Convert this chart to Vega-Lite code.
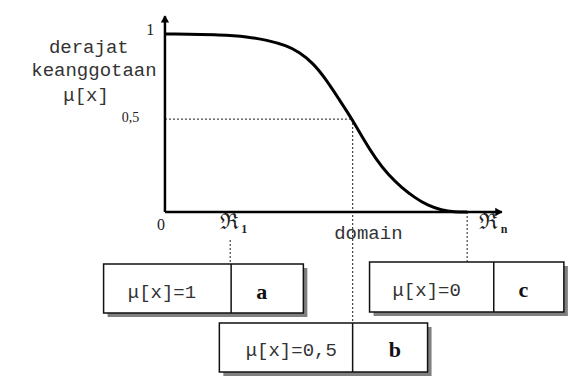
{
  "$schema": "https://vega.github.io/schema/vega-lite/v6.json",
  "width": 568,
  "height": 378,
  "padding": 0,
  "autosize": {"type": "fit", "contains": "padding"},
  "background": "white",
  "config": {"view": {"stroke": null}},
  "datasets": {
    "boxes": [
      {"x": -2.03, "x2": 4.58, "y": -0.292, "y2": -0.567},
      {"x": 1.80, "x2": 8.69, "y": -0.624, "y2": -0.899},
      {"x": 6.77, "x2": 13.2, "y": -0.281, "y2": -0.562}
    ],
    "dividers": [
      {"x": 2.19, "y": -0.292, "y2": -0.567},
      {"x": 6.21, "y": -0.624, "y2": -0.899},
      {"x": 10.88, "y": -0.281, "y2": -0.562}
    ],
    "curve": [
      {"x": 0, "y": 1.0},
      {"x": 1.96, "y": 0.996},
      {"x": 2.71, "y": 0.985},
      {"x": 3.37, "y": 0.966},
      {"x": 4.02, "y": 0.935},
      {"x": 4.44, "y": 0.899},
      {"x": 4.90, "y": 0.837},
      {"x": 5.33, "y": 0.745},
      {"x": 5.75, "y": 0.636},
      {"x": 6.21, "y": 0.517},
      {"x": 6.57, "y": 0.408},
      {"x": 6.96, "y": 0.302},
      {"x": 7.39, "y": 0.208},
      {"x": 7.84, "y": 0.136},
      {"x": 8.27, "y": 0.080},
      {"x": 8.69, "y": 0.037},
      {"x": 9.15, "y": 0.010},
      {"x": 9.58, "y": 0.0},
      {"x": 10.0, "y": 0.0}
    ],
    "axisV": [{"x": 0, "y": 0, "y2": 1.1}],
    "axisH": [{"x": 0, "x2": 11.15, "y": 0}],
    "arrowUp": [{"x": 0, "y": 1.085}],
    "arrowRight": [{"x": 11.05, "y": 0}],
    "dotV": [
      {"x": 6.21, "y": 0.522, "y2": -0.624},
      {"x": 2.16, "y": -0.157, "y2": -0.292},
      {"x": 10.0, "y": 0, "y2": -0.281}
    ],
    "dotH": [{"x": 0, "x2": 6.21, "y": 0.522}],
    "mono": [
      {"x": -2.52, "y": 0.927, "t": "derajat"},
      {"x": -2.35, "y": 0.798, "t": "keanggotaan"},
      {"x": -2.61, "y": 0.657, "t": "μ[x]"},
      {"x": 6.73, "y": -0.118, "t": "domain"},
      {"x": -0.1, "y": -0.449, "t": "μ[x]=1"},
      {"x": 4.18, "y": -0.775, "t": "μ[x]=0,5"},
      {"x": 8.66, "y": -0.438, "t": "μ[x]=0"}
    ],
    "serif": [
      {"x": -0.49, "y": 1.022, "t": "1"},
      {"x": -0.13, "y": -0.073, "t": "0"}
    ],
    "serifSmall": [
      {"x": -1.14, "y": 0.528, "t": "0,5"}
    ],
    "letters": [
      {"x": 3.2, "y": -0.449, "t": "a"},
      {"x": 7.61, "y": -0.775, "t": "b"},
      {"x": 11.86, "y": -0.438, "t": "c"}
    ],
    "fraktur": [
      {"x": 2.12, "y": -0.056, "t": "ℜ"},
      {"x": 10.72, "y": -0.056, "t": "ℜ"}
    ],
    "subs": [
      {"x": 2.62, "y": -0.095, "t": "1"},
      {"x": 11.22, "y": -0.095, "t": "n"}
    ]
  },
  "encoding": {
    "x": {"field": "x", "type": "quantitative", "scale": {"domain": [-5.458, 13.105], "nice": false, "zero": false}, "axis": null},
    "y": {"field": "y", "type": "quantitative", "scale": {"domain": [-0.9326, 1.191], "nice": false, "zero": false}, "axis": null}
  },
  "layer": [
    {
      "data": {"name": "dotH"},
      "mark": {"type": "rule", "color": "#444", "strokeWidth": 1.2, "strokeDash": [2, 2]},
      "encoding": {"x2": {"field": "x2"}}
    },
    {
      "data": {"name": "dotV"},
      "mark": {"type": "rule", "color": "#444", "strokeWidth": 1.2, "strokeDash": [2, 2]},
      "encoding": {"y2": {"field": "y2"}}
    },
    {
      "data": {"name": "boxes"},
      "mark": {"type": "rect", "color": "#808080", "xOffset": 4, "x2Offset": 4, "yOffset": 4, "y2Offset": 4},
      "encoding": {"x2": {"field": "x2"}, "y2": {"field": "y2"}}
    },
    {
      "data": {"name": "boxes"},
      "mark": {"type": "rect", "fill": "white", "stroke": "#111", "strokeWidth": 1.5},
      "encoding": {"x2": {"field": "x2"}, "y2": {"field": "y2"}}
    },
    {
      "data": {"name": "dividers"},
      "mark": {"type": "rule", "color": "#111", "strokeWidth": 1.5},
      "encoding": {"y2": {"field": "y2"}}
    },
    {
      "data": {"name": "mono"},
      "mark": {"type": "text", "font": "Liberation Mono", "fontSize": 19, "color": "#333", "align": "center", "baseline": "middle"},
      "encoding": {"text": {"field": "t"}}
    },
    {
      "data": {"name": "serif"},
      "mark": {"type": "text", "font": "Liberation Serif", "fontSize": 16, "color": "#222", "align": "center", "baseline": "middle"},
      "encoding": {"text": {"field": "t"}}
    },
    {
      "data": {"name": "serifSmall"},
      "mark": {"type": "text", "font": "Liberation Serif", "fontSize": 14, "color": "#222", "align": "center", "baseline": "middle"},
      "encoding": {"text": {"field": "t"}}
    },
    {
      "data": {"name": "letters"},
      "mark": {"type": "text", "font": "Liberation Serif", "fontSize": 22, "fontWeight": "bold", "color": "#111", "align": "center", "baseline": "middle"},
      "encoding": {"text": {"field": "t"}}
    },
    {
      "data": {"name": "fraktur"},
      "mark": {"type": "text", "font": "DejaVu Serif", "fontSize": 22, "color": "#222", "align": "center", "baseline": "middle"},
      "encoding": {"text": {"field": "t"}}
    },
    {
      "data": {"name": "subs"},
      "mark": {"type": "text", "font": "Liberation Serif", "fontSize": 12, "fontWeight": "bold", "color": "#222", "align": "center", "baseline": "middle"},
      "encoding": {"text": {"field": "t"}}
    },
    {
      "data": {"name": "axisV"},
      "mark": {"type": "rule", "color": "#000", "strokeWidth": 2.5},
      "encoding": {"y2": {"field": "y2"}}
    },
    {
      "data": {"name": "axisH"},
      "mark": {"type": "rule", "color": "#000", "strokeWidth": 2.5},
      "encoding": {"x2": {"field": "x2"}}
    },
    {
      "data": {"name": "arrowUp"},
      "mark": {"type": "point", "shape": "triangle-up", "filled": true, "color": "#000", "size": 70, "opacity": 1}
    },
    {
      "data": {"name": "arrowRight"},
      "mark": {"type": "point", "shape": "triangle-right", "filled": true, "color": "#000", "size": 70, "opacity": 1}
    },
    {
      "data": {"name": "curve"},
      "mark": {"type": "line", "color": "#000", "strokeWidth": 3, "interpolate": "basis"}
    }
  ]
}
